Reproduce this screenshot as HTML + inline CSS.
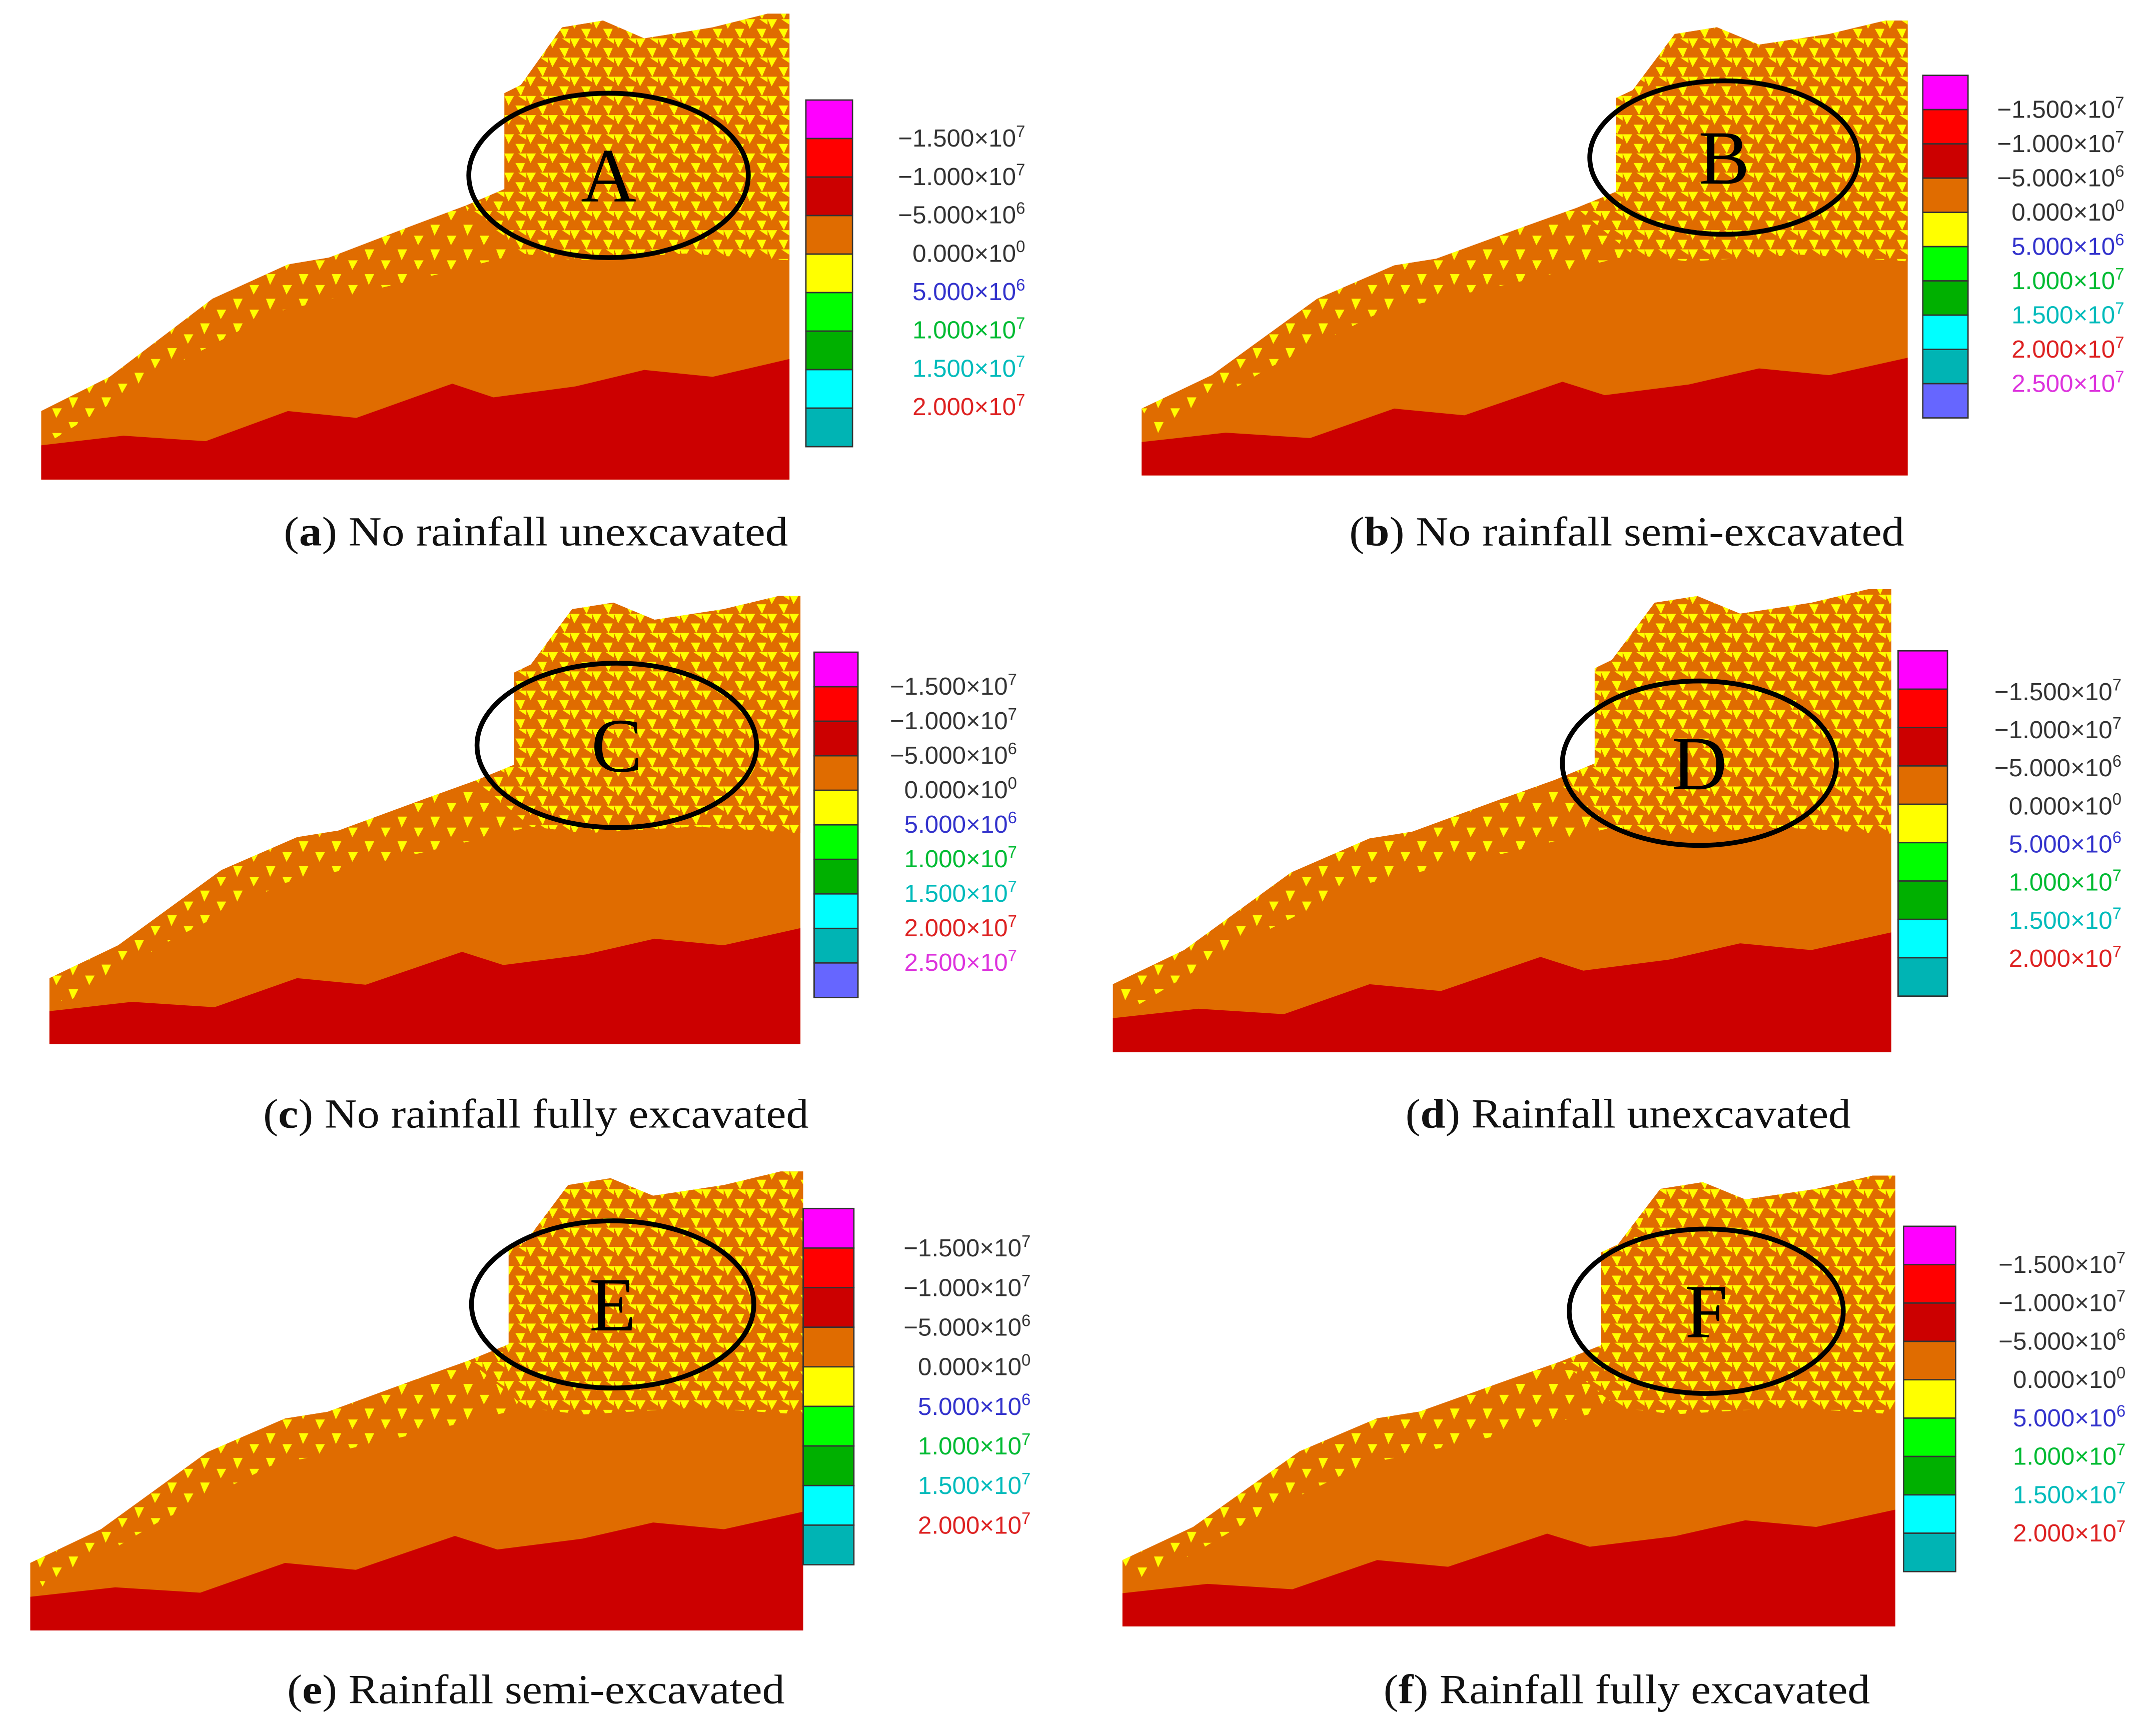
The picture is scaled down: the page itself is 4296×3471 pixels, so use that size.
<!DOCTYPE html>
<html><head><meta charset="utf-8"><style>
html,body{margin:0;padding:0;background:#fff;}
svg{display:block;}
</style></head><body>
<svg id="fig" xmlns="http://www.w3.org/2000/svg" width="4296" height="3471" viewBox="0 0 1568 1267">
<defs>
<pattern id="tri" patternUnits="userSpaceOnUse" width="16" height="14">
<rect width="16" height="14" fill="#e06c00"/>
<polygon points="0,0 7,0 3,7" fill="#ffff00"/>
<polygon points="8,7 15,7 12,14" fill="#ffff00"/>
<polygon points="10,0 16,0 16,4" fill="#ffff00"/>
</pattern>
<pattern id="tri2" patternUnits="userSpaceOnUse" width="24" height="18">
<rect width="24" height="18" fill="#e06c00"/>
<polygon points="2,2 9,2 5,10" fill="#ffff00"/>
<polygon points="14,10 21,10 17,17" fill="#ffff00"/>
</pattern>
</defs>
<g id="panels"></g>
</svg>
<script>
// Legend tick labels
const labels9 = ["-1.500","-1.000","-5.000","0.000","5.000","1.000","1.500","2.000"];
const exps9 = ["7","7","6","0","6","7","7","7"];
const labels10 = ["-1.500","-1.000","-5.000","0.000","5.000","1.000","1.500","2.000","2.500"];
const exps10 = ["7","7","6","0","6","7","7","7","7"];
const labelColors = ["#333","#333","#333","#333","#3333cc","#00bb33","#00bbbb","#dd2222","#dd33dd"];
const binColors = ["#ff00ff","#ff0000","#cc0000","#e06c00","#ffff00","#00ff00","#00b000","#00ffff","#00b4b4","#6666ff"];
const panelLetters = ["A","B","C","D","E","F"];
const captionIds = ["a","b","c","d","e","f"];
const captionTexts = ["No rainfall unexcavated","No rainfall semi-excavated","No rainfall fully excavated","Rainfall unexcavated","Rainfall semi-excavated","Rainfall fully excavated"];
const captionWidths = [368,405,398,325,363,355];

const panels = [
 {sx:30,sy:10,sw:546,sh:340,lx:588,ly:73,lw:34,lh:253,bins:9,tr:748,t0:101,ts:28,ex:444,ey:128,rx:102,ry:60,cx:391,cy:388},
 {sx:833,sy:15,sw:559,sh:332,lx:1403,ly:55,lw:33,lh:250,bins:10,tr:1550,t0:80,ts:25,ex:1258,ey:115,rx:98,ry:56,cx:1187,cy:388},
 {sx:36,sy:435,sw:548,sh:327,lx:594,ly:476,lw:32,lh:252,bins:10,tr:742,t0:501,ts:25.2,ex:450,ey:544,rx:102,ry:60,cx:391,cy:813},
 {sx:812,sy:430,sw:568,sh:338,lx:1385,ly:475,lw:36,lh:252,bins:9,tr:1548,t0:505,ts:27.8,ex:1240,ey:557,rx:100,ry:60,cx:1188,cy:813},
 {sx:22,sy:855,sw:564,sh:335,lx:586,ly:882,lw:37,lh:260,bins:9,tr:752,t0:911,ts:28.9,ex:447,ey:952,rx:103,ry:61,cx:391,cy:1233},
 {sx:819,sy:858,sw:564,sh:329,lx:1389,ly:895,lw:38,lh:252,bins:9,tr:1551,t0:923,ts:28,ex:1245,ey:957,rx:100,ry:60,cx:1187,cy:1233}
];
const outline = [[30,350],[30,300],[80,275],[155,218],[210,193],[240,188],[300,165],[340,150],[368,138],[368,68],[380,62],[410,20],[440,15],[470,28],[520,20],[560,10],[576,10],[576,350]];
const topBlock = [[368,138],[368,68],[380,62],[410,20],[440,15],[470,28],[520,20],[560,10],[576,10],[576,190],[500,185],[420,190],[380,185],[340,150]];
const edgeBand = [[30,300],[80,275],[155,218],[210,193],[240,188],[300,165],[340,150],[380,185],[300,205],[200,228],[120,270],[40,320]];
const redBand = [[30,350],[30,325],[90,318],[150,322],[210,300],[260,305],[330,280],[360,290],[420,282],[470,270],[520,275],[576,262],[576,350]];
const NS="http://www.w3.org/2000/svg";
const root=document.getElementById('panels');
function mk(tag,attrs,parent){const e=document.createElementNS(NS,tag);for(const k in attrs)e.setAttribute(k,attrs[k]);parent.appendChild(e);return e;}
function pts(poly,p){return poly.map(([x,y])=>((p.sx+(x-30)/546*p.sw).toFixed(1)+","+(p.sy+(y-10)/340*p.sh).toFixed(1))).join(" ");}
panels.forEach((p,i)=>{
 const g=mk('g',{},root);
 
 
 const body=mk('polygon',{points:pts(outline,p),fill:'#e06c00'},g);
 
 
 const eb=mk('polygon',{points:pts(edgeBand,p),fill:'url(#tri2)'},g);
 
 
 const tb=mk('polygon',{points:pts(topBlock,p),fill:'url(#tri)'},g);
 
 
 const rb=mk('polygon',{points:pts(redBand,p),fill:'#cc0000'},g);
 
 
 const el=mk('ellipse',{cx:p.ex,cy:p.ey,rx:p.rx,ry:p.ry,fill:'none',stroke:'#000','stroke-width':3.5},g);
 
 
 const lt=mk('text',{x:p.ex,y:p.ey+19,'text-anchor':'middle','font-family':'Liberation Serif, serif','font-size':56},g);
 
 
 lt.textContent=panelLetters[i];
 const bh=p.lh/p.bins;
 for(let b=0;b<p.bins;b++){
  const r=mk('rect',{x:p.lx,y:p.ly+b*bh,width:p.lw,height:bh,fill:binColors[b],stroke:'#333','stroke-width':1},g);
  
  
 }
 const L=p.bins===10?labels10:labels9, E=p.bins===10?exps10:exps9;
 L.forEach((s,k)=>{
  const t=mk('text',{x:p.tr,y:p.t0+k*p.ts+6,'text-anchor':'end','font-family':'Liberation Sans, sans-serif','font-size':18,fill:labelColors[k]},g);
  
  
  t.textContent=s.replace('-','\u2212')+'\u00d710';
  const sp=mk('tspan',{dy:-7,'font-size':12},t);
  sp.textContent=E[k];
 });
 const c=mk('text',{x:p.cx-captionWidths[i]/2,y:p.cy+10,'font-family':'Liberation Serif, serif','font-size':30,fill:'#111',textLength:captionWidths[i],lengthAdjust:'spacingAndGlyphs'},g);
 
 
 const s1=mk('tspan',{},c);s1.textContent='(';
 const s2=mk('tspan',{'font-weight':'bold'},c);s2.textContent=captionIds[i];
 const s3=mk('tspan',{},c);s3.textContent=') '+captionTexts[i];
});
</script>
</body></html>
